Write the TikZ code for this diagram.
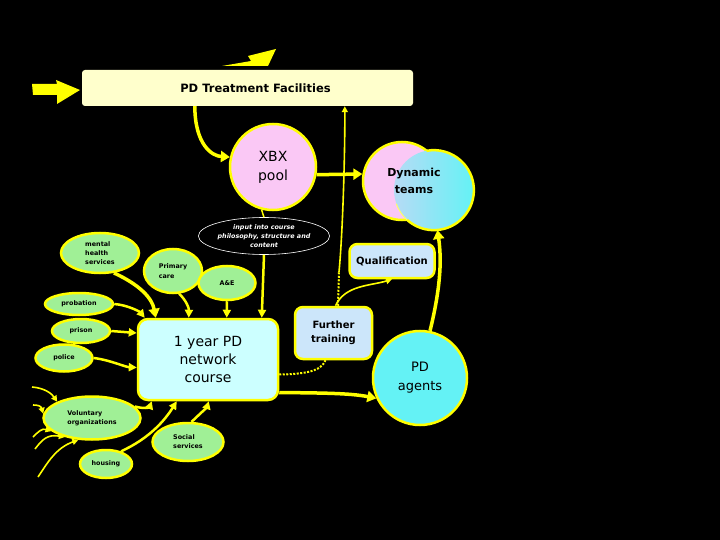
\documentclass[tikz,border=0pt]{standalone}
\usepackage{fontspec}
\setmainfont{DejaVu Sans}
\usetikzlibrary{shapes.geometric,arrows.meta,calc}
\definecolor{tfill}{RGB}{255,255,204}
\definecolor{pinkf}{RGB}{250,200,245}
\definecolor{cyanf}{RGB}{100,242,245}
\definecolor{greenf}{RGB}{160,240,150}
\definecolor{coursef}{RGB}{204,255,255}
\definecolor{lbluef}{RGB}{204,230,250}
\definecolor{ylw}{RGB}{255,255,0}
\begin{document}
\begin{tikzpicture}[x=1pt,y=-1pt,
  ybord/.style={draw=ylw, line width=2.5pt},
  greennode/.style={ellipse, ybord, fill=greenf, inner sep=0pt,
    font=\fontsize{6.4}{9}\selectfont\bfseries, align=left},
  roundbox/.style={rectangle, rounded corners=8pt, ybord, inner sep=0pt, align=center},
  bigarrow/.style={draw=ylw, line width=3.5pt, -{Triangle[length=9pt,width=11pt]}},
  midarrow/.style={draw=ylw, line width=2.5pt, -{Triangle[length=8pt,width=8pt]}},
  thinarrow/.style={draw=ylw, line width=1.6pt, -{Triangle[length=6pt,width=6pt]}},
  dotline/.style={draw=ylw, line width=2pt, dash pattern=on 2pt off 1.5pt}]
\fill[black] (0,0) rectangle (720,540);
\useasboundingbox (0,0) rectangle (720,540);

% decorative arrows
\fill[ylw] (32,84) -- (57,84) -- (56,80) -- (80,90) -- (57,104) -- (57,95) -- (33,95) -- cycle;
\fill[ylw] (222,66) -- (251,61) -- (248,56) -- (276,49) -- (268,66) -- cycle;

% nodes
\node[rectangle, rounded corners=3pt, fill=tfill, minimum width=331pt, minimum height=36pt,
  inner sep=0pt, font=\fontsize{11.5}{14}\selectfont\bfseries] (tf) at (247.5,88) {\hspace*{16pt}PD Treatment Facilities};

\node[circle, ybord, fill=pinkf, minimum size=86pt, inner sep=0pt,
  font=\fontsize{14}{19}\selectfont, align=center] (xbx) at (273,167) {XBX\\pool};

\node[circle, ybord, fill=pinkf, minimum size=78pt, inner sep=0pt] (dynp) at (402,181) {};
\node[circle, minimum size=80pt, inner sep=0pt, left color=cyanf!45!pinkf,
  middle color=cyanf, right color=cyanf] (dync) at (434,190) {};
\draw[ybord] (dync.-132) arc[start angle=132, end angle=-100.7, radius=40];
\draw[draw=ylw!60!white, line width=1pt] (dync.-132) arc[start angle=132, end angle=160, radius=40];
\node[font=\fontsize{11}{17}\selectfont\bfseries, align=center] (dynt) at (414,181) {Dynamic\\teams};

\node[roundbox, fill=lbluef, minimum width=85pt, minimum height=34pt,
  font=\fontsize{10}{12}\selectfont\bfseries] (qual) at (392,261) {Qualification};

\node[ellipse, draw=white, line width=0.6pt, fill=black, minimum width=110pt, minimum height=37pt,
  inner sep=0pt, text=white, font=\fontsize{6.4}{9}\selectfont\bfseries\itshape, align=center]
  (inp) at (264,236) {input into course\\philosophy, structure and\\content};

\node[greennode, minimum width=78pt, minimum height=40pt] (mh) at (100,253) {mental\\health\\services};
\node[greennode, minimum width=58pt, minimum height=44pt, font=\fontsize{6.4}{10}\selectfont\bfseries] (pc) at (173,271) {Primary\\care};
\node[greennode, minimum width=57pt, minimum height=34pt] (ae) at (227,283) {A\&E};
\node[greennode, minimum width=68pt, minimum height=22pt] (prob) at (79,304) {probation};
\node[greennode, minimum width=58pt, minimum height=24pt] (prison) at (81,331) {prison};
\node[greennode, minimum width=57pt, minimum height=27pt] (police) at (64,358) {police};
\node[greennode, minimum width=97pt, minimum height=43pt] (vol) at (92,418) {Voluntary\\organizations};
\node[greennode, minimum width=52pt, minimum height=28pt] (housing) at (106,464) {housing};
\node[greennode, minimum width=71pt, minimum height=38pt] (social) at (188,442) {Social\\services};

\node[roundbox, rounded corners=10pt, fill=coursef, minimum width=140pt, minimum height=81pt,
  font=\fontsize{14}{18}\selectfont] (course) at (208,359.5) {1 year PD\\network\\course};

\node[roundbox, fill=lbluef, minimum width=77pt, minimum height=52pt,
  font=\fontsize{10}{14}\selectfont\bfseries] (ft) at (333.5,333) {Further\\training};

\node[circle, ybord, fill=cyanf, minimum size=94pt, inner sep=0pt,
  font=\fontsize{13}{19}\selectfont, align=center] (pda) at (420,378) {PD\\agents};

% connectors
\draw[bigarrow] ([xshift=113pt]tf.south west) .. controls (195,145) and (212,156) .. (xbx.167);
\draw[bigarrow] (xbx.-10) -- (dynp.170);
\draw[bigarrow] (pda.78) .. controls (440,290) and (442,262) .. (dync.-85);

\coordinate (bend) at (339,272);
\draw[dotline] ([xshift=4.5pt]ft.north) -- (bend);
\draw[thinarrow] (bend) .. controls (343,230) and (345,150) .. ([xshift=263pt]tf.south west);
\draw[thinarrow] ([xshift=2pt]ft.north) .. controls (345,285) and (370,286) .. (qual.south);

\draw[draw=ylw, line width=1.5pt] (xbx.-105) -- (inp.north);
\draw[midarrow] (inp.south) -- ([xshift=125pt]course.north west);

\draw[bigarrow] (mh.-55) .. controls (140,285) and (152,298) .. ([xshift=19pt]course.north west);
\draw[midarrow] (pc.-75) .. controls (186,300) and (189,308) .. ([xshift=52pt]course.north west);
\draw[midarrow] (ae.south) -- ([xshift=90pt]course.north west);
\draw[midarrow] (prob.east) .. controls (128,305) and (140,312) .. ([xshift=8pt]course.north west);
\draw[midarrow] (prison.east) -- ([yshift=26.5pt]course.west);
\draw[midarrow] (police.east) .. controls (110,360) and (125,367) .. ([yshift=-8pt]course.west);
\draw[midarrow] (vol.15) .. controls (148,410) and (150,406) .. ([xshift=15pt]course.south west);
\draw[midarrow] (housing.40) .. controls (150,438) and (165,420) .. ([xshift=40pt]course.south west);
\draw[midarrow] (social.80) .. controls (202,412) and (207,407) .. ([xshift=72pt]course.south west);

\draw[dotline] ([yshift=-15pt]course.east) .. controls (315,374) and (322,368) .. ([xshift=-8pt]ft.south);
\draw[bigarrow] ([yshift=-33pt]course.east) .. controls (320,393) and (350,393) .. (pda.205);

% incoming lines to voluntary organizations
\coordinate (v1) at (32,387);
\coordinate (v2) at (33,405);
\coordinate (v3) at (33,437);
\coordinate (v4) at (35,449);
\coordinate (v5) at (38,477);
\draw[thinarrow] (v1) .. controls (45,388) and (52,394) .. (vol.155);
\draw[thinarrow] (v2) .. controls (38,405) and (41,406) .. (vol.175);
\draw[thinarrow] (v3) .. controls (38,432) and (42,428) .. (vol.198);
\draw[thinarrow] (v4) .. controls (42,440) and (47,434) .. (vol.215);
\draw[thinarrow] (v5) .. controls (48,462) and (56,448) .. (vol.238);
\end{tikzpicture}
\end{document}
